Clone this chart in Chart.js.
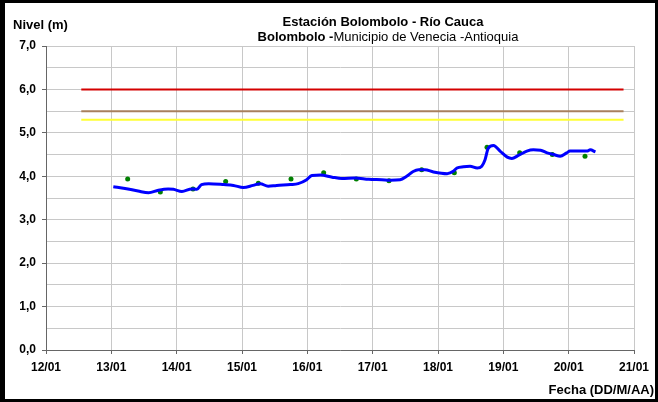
<!DOCTYPE html>
<html>
<head>
<meta charset="utf-8">
<script src="https://cdn.jsdelivr.net/npm/chart.js@4"></script>
<style>
  body { margin: 0; background: #fff; }
  #wrap { position: relative; width: 658px; height: 402px; font-family: "Liberation Sans", Arial, sans-serif; }
  #wrap canvas { position: absolute; left: 0; top: 0; }
  #frame { position: absolute; left: 0; top: 0; width: 658px; height: 402px; box-sizing: border-box;
           border-style: solid; border-color: #000; border-width: 3px 3px 3px 5px; pointer-events: none; }
  .txt { position: absolute; white-space: nowrap; color: #000; font-size: 13px; line-height: 15px; }
  .b { font-weight: bold; }
</style>
</head>
<body>
<div id="wrap">
  <canvas id="nivelChart" width="658" height="402"></canvas>
  <div id="frame"></div>
  <div class="txt b" style="left:13px; top:17px;">Nivel (m)</div>
  <div class="txt b" style="left:383px; top:14px; transform:translateX(-50%);">Estación Bolombolo - Río Cauca</div>
  <div class="txt" style="left:388px; top:29px; transform:translateX(-50%);"><b>Bolombolo -</b>Municipio de Venecia -Antioquia</div>
  <div class="txt b" style="right:4px; top:382px;">Fecha (DD/M/AA)</div>
</div>
<script>
  // Tick labels for the date axis (day of January)
  const xTickLabels = ['12/01', '13/01', '14/01', '15/01', '16/01', '17/01', '18/01', '19/01', '20/01', '21/01'];

  // Continuous level record (day of month, metres)
  const levelDays = [13.03, 13.21, 13.41, 13.57, 13.72, 13.87, 13.95, 14.08, 14.23, 14.31, 14.38, 14.49,
    14.72, 14.87, 15.02, 15.17, 15.28, 15.40, 15.53, 15.74, 15.86, 15.99, 16.07, 16.20,
    16.38, 16.53, 16.73, 16.94, 17.14, 17.27, 17.42, 17.52, 17.62, 17.70, 17.80, 17.93,
    18.14, 18.24, 18.29, 18.39, 18.49, 18.60, 18.67, 18.72, 18.77, 18.85, 18.95, 19.06,
    19.13, 19.23, 19.36, 19.46, 19.57, 19.67, 19.77, 19.87, 19.97, 20.02, 20.28, 20.33, 20.41];
  const levelValues = [3.76, 3.72, 3.66, 3.62, 3.68, 3.71, 3.70, 3.65, 3.71, 3.70, 3.81, 3.83,
    3.81, 3.79, 3.74, 3.79, 3.83, 3.77, 3.79, 3.81, 3.83, 3.92, 4.02, 4.03,
    3.98, 3.95, 3.96, 3.93, 3.92, 3.91, 3.92, 4.00, 4.11, 4.15, 4.15, 4.10,
    4.06, 4.12, 4.19, 4.22, 4.23, 4.19, 4.23, 4.38, 4.65, 4.71, 4.58, 4.44,
    4.41, 4.48, 4.58, 4.61, 4.60, 4.54, 4.50, 4.46, 4.54, 4.58, 4.58, 4.61, 4.56];

  // Staff-gauge readings, twice a day
  const obsDays = [13.25, 13.75, 14.25, 14.75, 15.25, 15.75, 16.25, 16.75, 17.25, 17.75, 18.25, 18.75, 19.25, 19.75, 20.25];
  const obsValues = [3.94, 3.64, 3.71, 3.88, 3.84, 3.94, 4.08, 3.94, 3.90, 4.15, 4.08, 4.67, 4.54, 4.50, 4.46];

  // Alert thresholds
  const alertNames = ['Alerta roja', 'Alerta naranja', 'Alerta amarilla'];
  const alertLevels = [6.0, 5.5, 5.3];
  const alertColors = ['#D40000', '#A8805C', '#FFFF33'];
  const alertSpan = [12.54, 20.84];

  const toPoints = (xs, ys) => xs.map((x, i) => ({ x: x, y: ys[i] }));

  const datasets = alertLevels.map((lvl, i) => ({
    label: alertNames[i],
    data: alertSpan.map(d => ({ x: d, y: lvl })),
    borderColor: alertColors[i],
    borderWidth: 2,
    pointRadius: 0,
    tension: 0
  }));

  datasets.push({
    label: 'Nivel',
    data: toPoints(levelDays, levelValues),
    borderColor: '#0000FF',
    borderWidth: 3,
    pointRadius: 0,
    tension: 0.4,
    cubicInterpolationMode: 'monotone'
  });

  datasets.push({
    label: 'Lecturas',
    data: toPoints(obsDays, obsValues),
    showLine: false,
    pointRadius: 2.5,
    pointBackgroundColor: '#008000',
    pointBorderWidth: 0,
    borderColor: '#008000'
  });

  const tickFont = { family: '"Liberation Sans", Arial, sans-serif', size: 12, weight: 'bold' };
  const isWhole = v => Math.abs(v - Math.round(v)) < 1e-6;

  new Chart(document.getElementById('nivelChart'), {
    type: 'line',
    data: { datasets: datasets },
    options: {
      responsive: false,
      animation: false,
      layout: { padding: { left: 0, right: 24, top: 46, bottom: 0 } },
      plugins: { legend: { display: false }, title: { display: false }, tooltip: { enabled: false } },
      scales: {
        x: {
          type: 'linear',
          min: 12,
          max: 21,
          afterFit: s => { s.height = 52; },
          ticks: {
            stepSize: 1,
            color: '#000',
            font: tickFont,
            padding: 6,
            maxRotation: 0,
            callback: v => xTickLabels[Math.round(v) - 12]
          },
          grid: { color: '#C8C8C8', lineWidth: 1, tickLength: 4, tickColor: '#666' },
          border: { color: '#666', width: 1 }
        },
        y: {
          min: 0,
          max: 7,
          afterFit: s => { s.width = 46; },
          ticks: {
            stepSize: 0.5,
            color: '#000',
            font: tickFont,
            padding: 6,
            callback: v => (isWhole(v) ? v.toFixed(1).replace('.', ',') : '')
          },
          grid: {
            color: '#C8C8C8',
            lineWidth: 1,
            tickLength: 4,
            tickColor: ctx => (isWhole(ctx.tick.value) ? '#666' : 'rgba(0,0,0,0)')
          },
          border: { color: '#666', width: 1 }
        }
      }
    }
  });
</script>
</body>
</html>
